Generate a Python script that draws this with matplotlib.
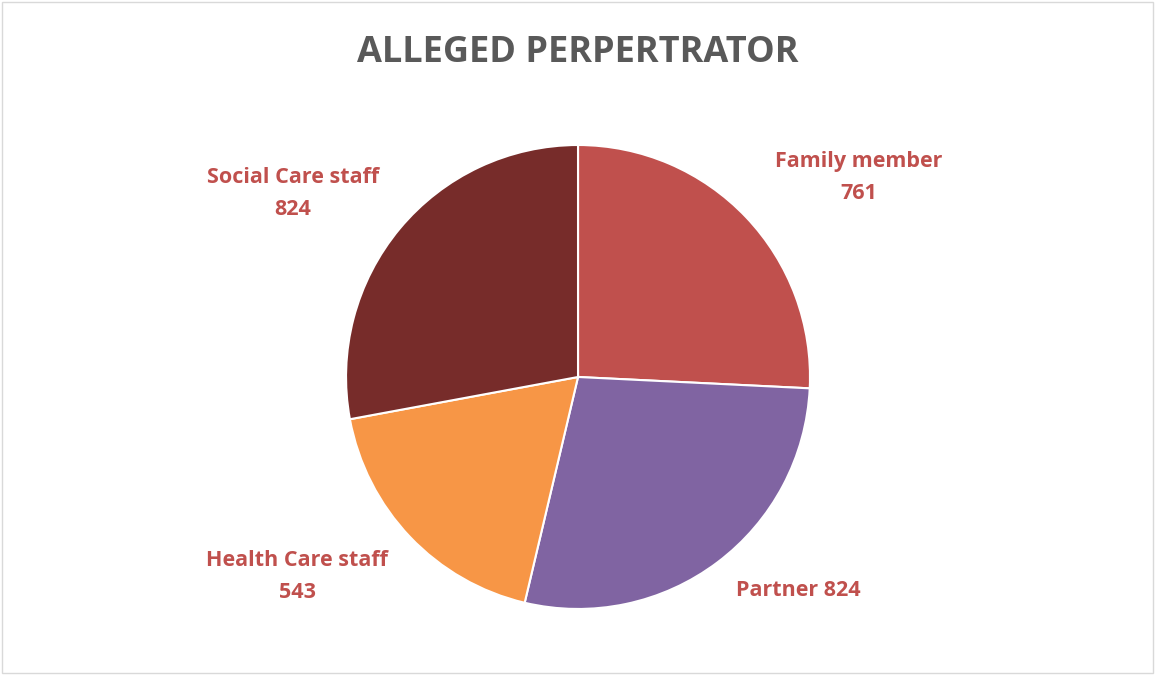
import matplotlib.pyplot as plt
from matplotlib.patches import Rectangle

# data
categories = ['Family member', 'Partner', 'Health Care staff', 'Social Care staff']
values = [761, 824, 543, 824]
colors = ['#C0504D', '#8064A2', '#F79646', '#772C2A']
label_text = ['Family member\n761', 'Partner 824', 'Health Care staff\n543', 'Social Care staff\n824']
# label positions (in pie radius units)
label_pos = [(1.21, 0.86), (0.95, -0.92), (-1.21, -0.86), (-1.23, 0.79)]

plt.rcParams['font.family'] = ['Open Sans', 'DejaVu Sans']

fig = plt.figure(figsize=(11.55, 6.75), dpi=100)
fig.patches.append(Rectangle((0.002, 0.003), 0.996, 0.994, transform=fig.transFigure,
                             fill=False, edgecolor='#D9D9D9', linewidth=1))

ax = fig.add_axes([0.2996, 0.0978, 0.4017, 0.6874])
ax.pie(values, colors=colors, startangle=90, counterclock=False,
       wedgeprops=dict(edgecolor='white', linewidth=1.5))
ax.set_xlim(-1, 1)
ax.set_ylim(-1, 1)

for txt, (x, y) in zip(label_text, label_pos):
    ax.text(x, y, txt, ha='center', va='center', color='#C0504D',
            fontsize=15.5, fontweight='bold', linespacing=1.7)

fig.text(0.5, 0.922, 'ALLEGED PERPERTRATOR', ha='center', va='center',
         color='#595959', fontsize=26, fontweight='bold')

fig.savefig('out.png', dpi=100)
